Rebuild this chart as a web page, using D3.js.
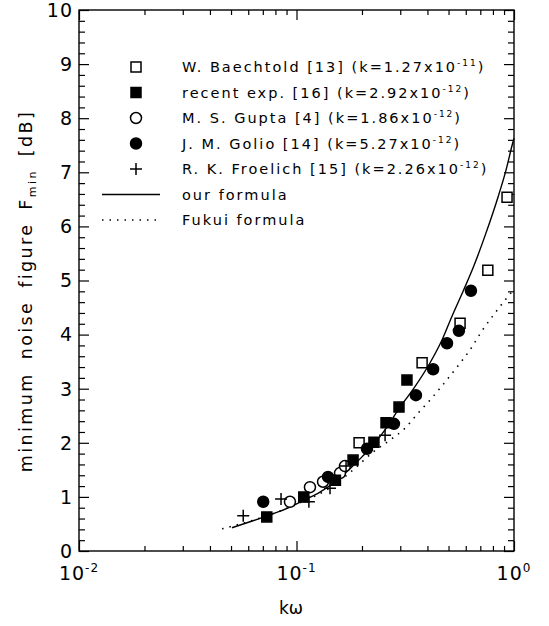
<!DOCTYPE html>
<html>
<head>
<meta charset="utf-8">
<script src="https://cdn.jsdelivr.net/npm/d3@7"></script>
<style>
  body { margin: 0; background: #fff; }
  text { font-family: "DejaVu Sans", sans-serif; fill: #000; }
</style>
</head>
<body>
<div id="chart"></div>
<script>
// measured points, [kω, Fmin dB]
const baechtoldPts = [[0.194, 2.00], [0.378, 3.48], [0.565, 4.21], [0.758, 5.19], [0.929, 6.54]];
const recentPts = [[0.0730, 0.63], [0.108, 1.00], [0.151, 1.31], [0.182, 1.68], [0.227, 2.01], [0.258, 2.37], [0.296, 2.66], [0.322, 3.16]];
const guptaPts = [[0.0933, 0.91], [0.1153, 1.18], [0.1324, 1.28], [0.1585, 1.44], [0.167, 1.57]];
const golioPts = [[0.0703, 0.91], [0.1396, 1.37], [0.2109, 1.89], [0.2805, 2.35], [0.354, 2.88], [0.4248, 3.36], [0.492, 3.84], [0.558, 4.07], [0.634, 4.81]];
const froelichPts = [[0.0569, 0.65], [0.0849, 0.96], [0.114, 0.91], [0.1426, 1.16], [0.169, 1.57], [0.2554, 2.14]];

// curves
const ourFormula = [[0.0505, 0.43], [0.0611, 0.54], [0.0732, 0.65], [0.0934, 0.81], [0.1083, 0.94], [0.1282, 1.09], [0.1504, 1.28], [0.1762, 1.52], [0.2000, 1.74], [0.2296, 2.00], [0.2606, 2.29], [0.2933, 2.61], [0.3467, 3.01], [0.4113, 3.48], [0.4667, 3.90], [0.5188, 4.34], [0.5834, 4.80], [0.6478, 5.23], [0.7437, 5.88], [0.8440, 6.54], [0.9189, 7.04], [0.9790, 7.49], [1.0, 7.63]];
const fukuiFormula = [[0.0455, 0.41], [0.0680, 0.61], [0.1038, 0.89], [0.1426, 1.17], [0.1858, 1.53], [0.2250, 1.83], [0.2692, 2.05], [0.3155, 2.27], [0.3624, 2.55], [0.4113, 2.79], [0.4572, 3.01], [0.5470, 3.40], [0.6281, 3.72], [0.7129, 4.07], [0.8185, 4.40], [0.9105, 4.64], [1.0, 4.84]];

// legend
const legendNames = ["W. Baechtold [13]", "recent exp. [16]", "M. S. Gupta [4]", "J. M. Golio [14]", "R. K. Froelich [15]"];
const legendK = ["1.27", "2.92", "1.86", "5.27", "2.26"];
const legendKExp = ["-11", "-12", "-12", "-12", "-12"];
const lineNames = ["our formula", "Fukui formula"];

// axes
const xDecades = [0.01, 0.1, 1];
const xDecadeExp = ["-2", "-1", "0"];
const yTicks = [0, 1, 2, 3, 4, 5, 6, 7, 8, 9, 10];

const width = 549;
const height = 626;
const margin = { top: 10, right: 35, bottom: 75, left: 79 };

const svg = d3.select("#chart")
  .append("svg")
  .attr("width", width)
  .attr("height", height);

const x = d3.scaleLog()
  .domain([0.01, 1])
  .range([margin.left, width - margin.right]);

const y = d3.scaleLinear()
  .domain([0, 10])
  .range([height - margin.bottom, margin.top]);

const x0 = margin.left, x1 = width - margin.right;
const y0 = height - margin.bottom, y1 = margin.top;

const xMinor = [];
xDecades.slice(0, -1).forEach(d => {
  for (let m = 2; m <= 9; m++) xMinor.push(d * m);
});
const yMinor = d3.range(0, 50).map(i => i / 5).filter(v => v % 1 !== 0);

function ticks(axis, values, size, tx, ty) {
  svg.append("g")
    .attr("transform", `translate(${tx},${ty})`)
    .call(axis.tickValues(values).tickSize(-size).tickFormat(""))
    .call(g => g.select(".domain").remove())
    .selectAll("line")
    .attr("stroke-width", 1.2);
}

ticks(d3.axisBottom(x), xDecades, 10, 0, y0);
ticks(d3.axisBottom(x), xMinor, 5, 0, y0);
ticks(d3.axisTop(x), xDecades, 10, 0, y1);
ticks(d3.axisTop(x), xMinor, 5, 0, y1);
ticks(d3.axisLeft(y), yTicks, 10, x0, 0);
ticks(d3.axisLeft(y), yMinor, 6, x0, 0);
ticks(d3.axisRight(y), yTicks, 10, x1, 0);
ticks(d3.axisRight(y), yMinor, 6, x1, 0);

svg.append("rect")
  .attr("x", x0)
  .attr("y", y1)
  .attr("width", x1 - x0)
  .attr("height", y0 - y1)
  .attr("fill", "none")
  .attr("stroke", "#000")
  .attr("stroke-width", 1.4);

// y tick labels
svg.append("g")
  .selectAll("text")
  .data(yTicks)
  .enter()
  .append("text")
  .attr("x", x0 - 6)
  .attr("y", d => y(d))
  .attr("dy", "0.36em")
  .attr("text-anchor", "end")
  .style("font-size", "19px")
  .style("letter-spacing", "1px")
  .text(d => d);

// x tick labels 10^n
xDecades.forEach((d, i) => {
  const t = svg.append("text")
    .attr("x", x(d))
    .attr("y", 580)
    .attr("text-anchor", "middle")
    .style("font-size", "19px")
    .style("letter-spacing", "1px");
  t.append("tspan").text("10");
  t.append("tspan")
    .attr("dy", -8)
    .style("font-size", "12px")
    .text(xDecadeExp[i]);
});

svg.append("text")
  .attr("x", 291)
  .attr("y", 614)
  .attr("text-anchor", "middle")
  .style("font-size", "17px")
  .text("kω");

// y title
{
  const t = svg.append("text")
    .attr("transform", `translate(32,${291}) rotate(-90)`)
    .attr("text-anchor", "middle")
    .style("font-size", "17.5px")
    .style("letter-spacing", "2.4px")
    .style("word-spacing", "5px");
  t.append("tspan").text("minimum noise figure F");
  t.append("tspan").attr("dy", 4).style("font-size", "11px").text("min");
  t.append("tspan").attr("dy", -4).text(" [dB]");
}

// curves
const line = d3.line()
  .x(d => x(d[0]))
  .y(d => y(d[1]))
  .curve(d3.curveMonotoneX);

svg.append("path")
  .datum(fukuiFormula)
  .attr("d", line)
  .attr("fill", "none")
  .attr("stroke", "#000")
  .attr("stroke-width", 1.6)
  .attr("stroke-dasharray", "1.5,6");

svg.append("path")
  .datum(ourFormula)
  .attr("d", line)
  .attr("fill", "none")
  .attr("stroke", "#000")
  .attr("stroke-width", 1.4);

// markers
const squarePath = d3.symbol().type(d3.symbolSquare).size(100)();
const circlePath = d3.symbol().type(d3.symbolCircle).size(95)();
const plusPath = "M-6,0H6M0,-6V6";

const markerStyles = [
  { path: squarePath, fill: "#fff", stroke: "#000" },
  { path: squarePath, fill: "#000", stroke: "#000" },
  { path: circlePath, fill: "#fff", stroke: "#000" },
  { path: circlePath, fill: "#000", stroke: "#000" },
  { path: plusPath, fill: "none", stroke: "#000" }
];
const allPts = [baechtoldPts, recentPts, guptaPts, golioPts, froelichPts];

function marker(g, style, cx, cy) {
  g.append("path")
    .attr("transform", `translate(${cx},${cy})`)
    .attr("d", style.path)
    .attr("fill", style.fill)
    .attr("stroke", style.stroke)
    .attr("stroke-width", 1.5);
}

[2, 4, 0, 1, 3].forEach(i => {
  const g = svg.append("g");
  allPts[i].forEach(d => marker(g, markerStyles[i], x(d[0]), y(d[1])));
});

// legend
const legend = svg.append("g");
const rowY = i => 67 + i * 25.5;

legendNames.forEach((name, i) => {
  marker(legend, markerStyles[i], 136, rowY(i));
  const t = legend.append("text")
    .attr("x", 182)
    .attr("y", rowY(i))
    .attr("dy", "0.36em")
    .style("font-size", "14.5px")
    .style("letter-spacing", "2px");
  t.append("tspan").text(`${name} (k=${legendK[i]}x10`);
  t.append("tspan").attr("dy", -6).style("font-size", "9px").text(legendKExp[i]);
  t.append("tspan").attr("dy", 6).text(")");
});

lineNames.forEach((name, i) => {
  const yy = rowY(5 + i);
  legend.append("line")
    .attr("x1", 102).attr("x2", 160)
    .attr("y1", yy).attr("y2", yy)
    .attr("stroke", "#000")
    .attr("stroke-width", i === 0 ? 1.4 : 1.6)
    .attr("stroke-dasharray", i === 0 ? null : "1.5,6");
  legend.append("text")
    .attr("x", 182)
    .attr("y", yy)
    .attr("dy", "0.36em")
    .style("font-size", "14.5px")
    .style("letter-spacing", "2px")
    .text(name);
});
</script>
</body>
</html>
